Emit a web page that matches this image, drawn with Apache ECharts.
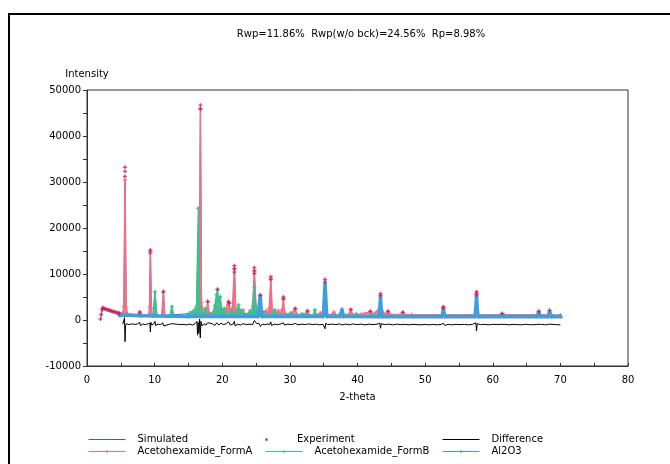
<!DOCTYPE html>
<html>
<head>
<meta charset="utf-8">
<script src="https://cdn.jsdelivr.net/npm/echarts@6/dist/echarts.min.js"></script>
<style>html,body{margin:0;padding:0;background:#fff;}#c{width:670px;height:464px;}</style>
</head>
<body>
<div id="c"></div>
<script>
const titleText = 'Rwp=11.86%  Rwp(w/o bck)=24.56%  Rp=8.98%';
const seriesNames = ['Simulated', 'Experiment', 'Difference', 'Acetohexamide_FormA', 'Acetohexamide_FormB', 'Al2O3'];

const simulated = [
[2.0,200],[2.3,2600],[3.0,2250],[4.0,1780],[4.8,1480],[5.3,1300],[5.45,2600],[5.62,30000],[5.78,2500],[5.9,1200],
[9.2,1050],[9.37,14800],[9.55,1050],[9.85,1000],[10.05,6000],[10.25,1000],[11.1,1000],[11.3,5900],[11.5,1000],
[16.2,1500],[16.47,21000],[16.6,3500],[16.77,45000],[16.95,1500],[21.6,1300],[21.8,11000],[22.0,1300],
[24.5,1500],[24.75,10400],[25.0,1500],[27.0,1200],[27.17,8700],[27.35,1200],[35.0,900],[35.2,7900],[35.4,900],
[43.2,900],[43.4,5000],[43.6,900],[57.4,900],[57.6,5400],[57.8,900],[70.0,900]
];

const experiment = [
[2.0,200],[2.1,1200],[2.2,2200],[2.3,2650],[2.45,2550],[2.6,2450],[2.8,2350],[3.0,2250],[3.2,2150],[3.4,2050],
[3.6,1950],[3.8,1850],[4.0,1780],[4.2,1700],[4.4,1620],[4.6,1550],[4.8,1480],
[5.62,33200],[5.62,32300],[5.6,31200],[7.8,1700],[9.37,15200],[9.37,14600],[11.3,6200],[16.77,46700],[16.77,45800],
[17.85,4000],[19.3,6700],[20.9,4000],[21.05,3600],[21.8,11800],[21.8,11100],[21.8,10400],[24.75,11400],[24.75,10800],
[24.75,10100],[25.65,5400],[27.17,9400],[27.17,8900],[29.05,5000],[29.05,4600],[30.8,2500],[32.6,2000],[35.2,8800],
[35.2,8300],[39.0,2300],[41.9,1900],[43.4,5700],[43.4,5300],[44.5,1900],[46.7,1700],[52.7,2900],[52.7,2600],
[57.6,6150],[57.6,5800],[57.6,5400],[61.4,1400],[66.8,1900],[68.4,2100]
];

const formA = [
[5.0,1250],[5.3,1500],[5.45,3000],[5.62,30400],[5.8,2800],[6.0,1300],
[7.55,1150],[7.8,1700],[8.05,1150],
[9.15,1100],[9.27,2800],[9.37,15000],[9.5,2600],[9.65,1100],
[11.05,1000],[11.3,6000],[11.5,1000],
[14.8,950],[15.6,1500],[16.0,2300],[16.2,1800],[16.45,3000],[16.62,4500],[16.77,46000],[16.92,3800],[17.2,1500],
[17.6,1400],[17.85,4000],[18.05,1500],[18.5,1300],[19.0,2500],[19.2,1800],[19.6,2400],[20.0,1500],[20.5,1800],
[20.8,3200],[21.0,3800],[21.2,2000],[21.5,2500],[21.8,11200],[22.0,2200],[22.3,1800],[22.6,2200],[23.1,2100],
[23.3,1300],[24.2,1500],[24.5,3000],[24.75,10500],[25.0,2500],[25.3,1600],[25.65,4800],[25.85,1500],[26.5,2000],
[26.7,1300],[26.95,2500],[27.17,8800],[27.4,2000],[27.7,1300],[28.3,2000],[28.5,1200],[28.85,2200],[29.05,4500],
[29.25,1500],[30.0,1200],[30.8,2400],[31.05,1200],[32.0,1100],[32.6,1900],[32.85,1100],[34.2,1100],[34.5,1500],
[34.75,1100],[36.2,1100],[36.5,1700],[36.75,1100],[37.5,1200],[37.7,2300],[37.95,1200],[38.75,1200],[39.0,2200],
[39.25,1200],[40.5,1200],[41.0,1400],[41.9,1800],[42.2,1200],[43.25,2500],[43.4,5200],[43.6,2000],[44.25,1200],
[44.5,1800],[44.8,1200],[46.45,1200],[46.7,1600],[46.95,1200],[48.0,1150],[52.45,1150],[52.7,2500],[52.95,1150],
[57.35,1200],[57.6,5500],[57.85,1200],[61.15,1150],[61.4,1300],[61.65,1150],[66.55,1150],[66.8,1800],[67.05,1150],
[68.15,1150],[68.4,2000],[68.65,1150],[70.0,1100]
];

const formB = [
[4.9,900],[9.75,900],[10.05,6100],[10.35,900],[12.25,850],[12.55,2900],[12.85,850],[14.8,850],[15.2,1500],[15.4,1100],
[15.6,1800],[15.8,1300],[16.0,2200],[16.2,3000],[16.47,24300],[16.65,3000],[16.9,1500],[17.2,1300],[17.45,2500],
[17.7,1200],[18.3,1100],[18.6,1500],[18.9,3000],[19.15,5500],[19.3,6500],[19.5,4000],[19.7,5070],[19.95,2000],
[20.3,2500],[20.55,1200],[21.15,1200],[21.4,1800],[21.65,1200],[22.15,1500],[22.4,3260],[22.65,1800],[22.9,2000],
[23.15,1200],[23.7,1100],[24.1,2000],[24.4,1500],[24.6,3500],[24.75,7250],[24.95,3000],[25.2,1500],[26.1,1700],
[26.35,1000],[27.45,1100],[27.75,2170],[28.05,1000],[29.5,1000],[30.1,1500],[30.35,1000],[31.5,950],[31.8,1300],
[32.05,950],[33.45,950],[33.7,2170],[33.95,950],[37.25,900],[37.5,1500],[37.75,900],[39.55,900],[39.8,1300],[40.05,900],
[41.95,900],[42.2,1200],[42.45,900],[69.0,850]
];

const al2o3 = [
[4.7,1100],[6,1050],[8,950],[10,880],[12,830],[15,780],[20,760],[25.35,750],[25.6,5400],[25.85,750],[34.95,740],
[35.2,8000],[35.45,740],[37.5,740],[37.7,2300],[37.9,740],[43.2,730],[43.4,4800],[43.6,730],[52.5,720],
[52.7,2400],[52.9,720],[57.4,720],[57.6,5100],[57.8,720],[61.2,720],[61.4,1200],[61.6,720],[66.6,720],
[66.8,1600],[67.0,720],[68.2,720],[68.4,1700],[68.6,720],[70.1,700]
];

const difference = [
[5.3,-900],[5.45,-700],[5.55,500],[5.62,-4700],[5.7,-1300],[5.8,-800],[6.2,-1000],[6.6,-850],[7.0,-950],[7.4,-900],
[7.8,-500],[7.9,-1200],[8.2,-900],[8.6,-1000],[9.0,-850],[9.3,-700],[9.37,-2600],[9.45,-500],[9.6,-1100],[9.9,-800],
[10.05,-300],[10.15,-1200],[10.5,-900],[10.9,-1000],[11.2,-600],[11.35,-1300],[11.6,-900],[12.0,-1000],[12.5,-800],
[12.7,-1100],[13.2,-900],[13.7,-1000],[14.2,-950],[14.7,-1050],[15.2,-900],[15.6,-1100],[16.0,-800],[16.25,-300],
[16.35,-3300],[16.45,-500],[16.55,-2900],[16.65,200],[16.75,-3900],[16.85,-300],[17.0,-1300],[17.3,-800],[17.6,-1100],
[17.85,-600],[18.1,-1000],[18.5,-800],[18.9,-1200],[19.2,-600],[19.5,-1100],[19.8,-700],[20.2,-1000],[20.6,-800],
[20.95,-400],[21.2,-1100],[21.6,-900],[21.8,-300],[21.9,-1300],[22.3,-900],[22.7,-1100],[23.1,-800],[23.6,-1000],
[24.1,-900],[24.5,-1000],[24.75,-100],[24.9,-500],[25.1,-800],[25.4,-700],[25.65,-1400],[25.9,-900],[26.3,-1000],
[26.7,-850],[27.0,-1000],[27.17,-400],[27.3,-1200],[27.7,-900],[28.2,-1000],[28.7,-850],[29.05,-600],[29.2,-1100],
[29.7,-900],[30.3,-1000],[30.8,-750],[31.2,-1050],[31.8,-900],[32.3,-1000],[32.8,-850],[33.4,-1000],[33.9,-900],
[34.4,-1050],[34.9,-950],[35.1,-600],[35.2,-1900],[35.3,-700],[35.6,-1000],[36.2,-900],[36.8,-1000],[37.4,-850],
[37.7,-1100],[38.2,-900],[38.8,-1050],[39.3,-850],[39.9,-1000],[40.5,-900],[41.1,-1050],[41.7,-900],[42.3,-1000],
[42.9,-900],[43.3,-700],[43.4,-1800],[43.5,-800],[44.0,-1000],[44.6,-900],[45.2,-1050],[45.8,-900],[46.4,-1000],
[47.0,-950],[47.6,-1050],[48.2,-950],[48.8,-1000],[49.4,-1050],[50.0,-950],[50.6,-1050],[51.2,-950],[51.8,-1050],
[52.4,-950],[52.7,-700],[52.9,-1200],[53.4,-950],[54.0,-1050],[54.6,-950],[55.2,-1000],[55.8,-950],[56.4,-1050],
[57.0,-950],[57.5,-600],[57.6,-2400],[57.7,-800],[58.2,-1000],[58.8,-950],[59.4,-1050],[60.0,-950],[60.6,-1000],
[61.2,-950],[61.4,-1300],[61.8,-950],[62.4,-1050],[63.0,-950],[63.6,-1000],[64.2,-1050],[64.8,-950],[65.4,-1000],
[66.0,-1050],[66.6,-950],[66.8,-1200],[67.2,-950],[67.8,-1050],[68.4,-900],[68.6,-1150],[69.2,-1000],[69.8,-1050],
[70.0,-1000]
];

const FONT = 'DejaVu Sans';
const FS = 10;
const plus = 'path://M1,0H2V1H3V2H2V3H1V2H0V1H1Z';
const C = {sim:'#3b5cc0', exp:'#c41e53', diff:'#000000', a:'#ef6f84', b:'#3fbf8f', al:'#3f9edb'};

const chart = echarts.init(document.getElementById('c'), null, {renderer:'canvas'});
function leg(name, left, top, extra) {
  return Object.assign({
    orient:'horizontal', left:left, top:top, padding:0, itemWidth:37, itemHeight:4, itemGap:0,
    textStyle:{fontFamily:FONT, fontSize:FS, color:'#000', lineHeight:12, padding:[0,0,0,7]},
    lineStyle:{width:1}, selectedMode:false, symbolKeepAspect:true, data:[name]
  }, extra || {});
}
chart.setOption({
  animation:false,
  backgroundColor:'#fff',
  title:{text:titleText, left:356, top:24, textAlign:'center',
    textStyle:{fontFamily:FONT, fontSize:FS, fontWeight:'normal', color:'#000'}},
  graphic:[{type:'rect', shape:{x:9, y:14, width:700, height:500}, style:{fill:'none', stroke:'#000', lineWidth:2}, silent:true}],
  legend:[
    leg(seriesNames[0], 88, 433.5, {itemStyle:{opacity:0}, lineStyle:{width:1, color:C.sim}}), leg(seriesNames[3], 88, 445.5),
    leg(seriesNames[1], 265, 433.5, {itemHeight:3, icon:'circle'}), leg(seriesNames[4], 265, 445.5),
    leg(seriesNames[2], 442, 433.5, {itemStyle:{opacity:0}, lineStyle:{width:1, color:C.diff}}), leg(seriesNames[5], 442, 445.5)
  ],
  grid:{left:87, right:42, top:90, bottom:98, show:true, borderColor:'#333', borderWidth:1, backgroundColor:'transparent'},
  xAxis:{type:'value', min:0, max:80, interval:10, name:'2-theta', nameLocation:'middle', nameGap:26,
    nameTextStyle:{fontFamily:FONT, fontSize:FS, color:'#000'},
    axisLine:{onZero:false, lineStyle:{color:'#333'}}, axisTick:{inside:true, length:3, lineStyle:{color:'#333'}},
    minorTick:{show:true, splitNumber:2, length:3, lineStyle:{color:'#333'}},
    splitLine:{show:false}, axisLabel:{fontFamily:FONT, fontSize:FS, color:'#000', margin:9, formatter:v => String(v)}},
  yAxis:{type:'value', min:-10000, max:50000, interval:10000, name:'Intensity', nameLocation:'end', nameGap:11,
    nameTextStyle:{fontFamily:FONT, fontSize:FS, color:'#000', align:'center'},
    axisLine:{show:true, onZero:false, lineStyle:{color:'#333'}}, axisTick:{show:true, inside:false, length:4, lineStyle:{color:'#333'}},
    minorTick:{show:true, splitNumber:2, length:4, lineStyle:{color:'#333'}},
    splitLine:{show:false}, axisLabel:{fontFamily:FONT, fontSize:FS, color:'#000', margin:6, formatter:v => String(v)}},
  series:[
    {name:seriesNames[0], type:'line', data:simulated, symbol:'none', lineStyle:{color:C.sim, width:1}, itemStyle:{color:C.sim}, z:1},
    {name:seriesNames[3], type:'line', data:formA, symbol:plus, symbolSize:4, lineStyle:{color:C.a, width:1.5},
      itemStyle:{color:C.a}, areaStyle:{color:C.a, opacity:0.9, origin:800}, z:2},
    {name:seriesNames[4], type:'line', data:formB, symbol:plus, symbolSize:4, lineStyle:{color:C.b, width:1.5},
      itemStyle:{color:C.b}, areaStyle:{color:C.b, opacity:0.95, origin:800}, z:3},
    {name:seriesNames[5], type:'line', data:al2o3, symbol:plus, symbolSize:4, lineStyle:{color:C.al, width:3.5},
      itemStyle:{color:C.al}, areaStyle:{color:C.al, opacity:1, origin:800}, z:4},
    {name:seriesNames[1], type:'scatter', data:experiment, symbol:plus, symbolSize:4, itemStyle:{color:C.exp}, z:5},
    {name:seriesNames[2], type:'line', data:difference, symbol:'none', lineStyle:{color:C.diff, width:1}, itemStyle:{color:C.diff}, z:6}
  ]
});
</script>
</body>
</html>
